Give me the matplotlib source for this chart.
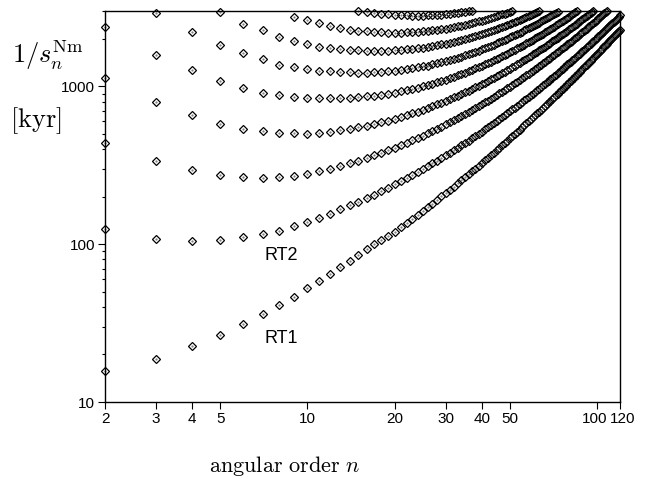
import matplotlib.pyplot as plt
import numpy as np
from matplotlib.ticker import FixedLocator, NullFormatter, NullLocator, LogLocator
from matplotlib.transforms import ScaledTranslation

plt.rcParams['font.family'] = ['Liberation Sans', 'DejaVu Sans']
plt.rcParams['mathtext.fontset'] = 'cm'

# relaxation times 1/s_n [kyr], one list per mode branch, consecutive angular orders
rt1_start = 2
rt1 = [15.8, 18.8, 22.5, 26.5, 31.0, 35.9, 41.1, 46.4, 52.4, 58.5, 64.8, 71.3, 78.2, 85.3, 92.6, 99.8, 106.8, 112.6,
       119.7, 127.7, 135.9, 144.4, 153.2, 162.1, 171.4, 180.8, 190.5, 200.4, 210.6,
       221.1, 231.7, 242.6, 253.8, 265.2, 276.9, 288.8, 301.0, 313.4, 326.2,
       339.1, 352.2, 365.7, 379.6, 393.5, 407.9, 422.2, 437.0, 452.1, 467.4,
       483.1, 498.9, 515.2, 531.6, 548.3, 565.3, 582.5, 599.8, 617.8, 636.0,
       654, 673, 692, 711, 731, 750, 771, 791, 811, 832,
       854, 875, 897, 919, 942, 965, 988, 1011, 1035, 1059,
       1083, 1108, 1133, 1158, 1184, 1209, 1235, 1262, 1289, 1316,
       1344, 1372, 1400, 1428, 1457, 1486, 1516, 1545, 1575, 1606,
       1636, 1668, 1699, 1731, 1763, 1796, 1829, 1862, 1895, 1929,
       1963, 1997, 2033, 2068, 2104, 2140, 2176, 2213, 2249, 2287]

rt2_start = 2
rt2 = [124, 108.5, 105, 106.5, 111, 116, 122, 130, 138, 147, 156, 166, 176, 186, 196, 206, 217, 228, 240,
       252.5, 264.1, 275.9, 288.0, 300.3, 312.9, 325.7, 338.8, 352.2, 365.7,
       379.7, 393.8, 408.2, 422.9, 437.8, 452.9, 468.5, 484.2, 500.3, 516.6,
       533.0, 549.7, 567.0, 584.4, 601.8, 619.9, 637.9, 656.4, 675.2, 694.1,
       713.6, 733.1, 753.1, 773.1, 793.6, 814.2, 835.3, 856.5, 878.4, 900.3,
       922, 945, 968, 991, 1014, 1038, 1062, 1086, 1111, 1136,
       1161, 1186, 1212, 1238, 1265, 1292, 1320, 1347, 1375, 1403,
       1432, 1460, 1489, 1519, 1548, 1579, 1609, 1640, 1671, 1702,
       1734, 1766, 1799, 1832, 1865, 1898, 1932, 1966, 2001, 2035,
       2070, 2106, 2142, 2179, 2216, 2253, 2291, 2328, 2366, 2405,
       2443, 2483, 2523, 2563, 2603, 2644, 2685, 2726, 2767, 2811]

b3_start = 2
b3 = [440, 337, 297, 276, 267, 264, 266, 272,
      280, 290, 301, 313, 325, 338, 351, 365, 379, 393, 408,
      423, 438, 454, 470, 486, 503, 520, 537, 555, 573,
      591, 610, 629, 648, 667, 687, 707, 727, 748, 769,
      791, 812, 834, 857, 879, 902, 925, 949, 973, 997,
      1022, 1046, 1072, 1097, 1123, 1149, 1176, 1202, 1230, 1258,
      1285, 1313, 1342, 1371, 1400, 1429, 1459, 1489, 1520, 1551,
      1583, 1614, 1646, 1678, 1711, 1744, 1777, 1811, 1846, 1880,
      1915, 1950, 1986, 2022, 2058, 2095, 2132, 2170, 2207, 2245,
      2283, 2323, 2362, 2401, 2442, 2483, 2523, 2564, 2606, 2649,
      2691, 2734, 2776, 2820, 2864, 2909, 2953, 2999]

b4_start = 2
b4 = [1128, 795, 655, 581, 540, 518, 508, 503,
      502, 508, 517, 526, 537, 550, 563, 577, 591, 607, 622,
      639, 656, 673, 691, 710, 728, 748, 767, 788, 808,
      829, 850, 872, 894, 916, 939, 962, 985, 1009, 1033,
      1057, 1082, 1107, 1133, 1159, 1185, 1212, 1239, 1266, 1294,
      1322, 1351, 1379, 1409, 1438, 1468, 1498, 1529, 1560, 1591,
      1623, 1655, 1687, 1720, 1753, 1786, 1820, 1855, 1889, 1924,
      1960, 1995, 2032, 2068, 2106, 2142, 2181, 2219, 2257, 2296,
      2335, 2375, 2415, 2456, 2497, 2537, 2580, 2622, 2664, 2707,
      2750, 2794, 2838, 2883, 2927, 2973, 3020]

b5_start = 2
b5 = [2372, 1586, 1262, 1076, 975, 910, 876, 858, 849,
      846, 843, 844, 848, 854, 863, 873, 886, 899, 913,
      929, 946, 963, 981, 1000, 1020, 1040, 1061, 1082, 1104,
      1127, 1150, 1173, 1197, 1222, 1247, 1272, 1298, 1325, 1352,
      1379, 1406, 1434, 1463, 1492, 1521, 1550, 1581, 1612, 1643,
      1674, 1706, 1738, 1771, 1804, 1838, 1872, 1906, 1941, 1976,
      2011, 2047, 2084, 2121, 2158, 2196, 2234, 2272, 2311, 2351,
      2391, 2431, 2471, 2513, 2554, 2596, 2639, 2682, 2725, 2768,
      2812, 2857, 2902, 2948, 2993]

b6_start = 3
b6 = [2925, 2208, 1835, 1620, 1480, 1370, 1320, 1285, 1258, 1242,
      1233, 1225, 1222, 1223, 1227, 1234, 1243, 1254,
      1268, 1282, 1299, 1316, 1335, 1354, 1375, 1397, 1419, 1442,
      1466, 1491, 1516, 1543, 1569, 1597, 1625, 1653, 1683, 1712,
      1743, 1773, 1805, 1836, 1868, 1901, 1934, 1968, 2003, 2038,
      2073, 2109, 2146, 2183, 2219, 2258, 2297, 2335, 2375, 2415,
      2454, 2495, 2536, 2578, 2620, 2662, 2706, 2749, 2793, 2838,
      2884, 2929, 2975]

b7_start = 5
b7 = [2950, 2494, 2260, 2060, 1940, 1850, 1785, 1740, 1712, 1697,
      1688, 1680, 1676, 1678, 1682, 1690,
      1700, 1712, 1726, 1742, 1759, 1778, 1798, 1820, 1842, 1866,
      1890, 1916, 1942, 1969, 1997, 2026, 2055, 2084, 2115, 2147,
      2178, 2211, 2244, 2277, 2312, 2346, 2381, 2417, 2453, 2490,
      2527, 2564, 2603, 2641, 2681, 2720, 2761, 2800, 2842, 2884,
      2926, 2969, 3012]

b8_start = 9
b8 = [2748, 2617, 2500, 2410, 2342,
      2289, 2253, 2226, 2207, 2196, 2189, 2187,
      2189, 2194, 2203, 2214, 2228, 2243, 2260, 2280, 2300, 2323,
      2346, 2371, 2397, 2424, 2452, 2481, 2511, 2542, 2574, 2606,
      2639, 2673, 2708, 2744, 2779, 2817, 2853, 2892, 2931, 2970, 3010]

b9_start = 15
b9 = [2990, 2950, 2915, 2885, 2860, 2840, 2825, 2815, 2808, 2805, 2806, 2811,
      2820, 2832, 2847, 2865, 2885, 2907, 2930, 2953, 2975, 2995, 3015]

xticks = [2, 3, 4, 5, 10, 20, 30, 40, 50, 100, 120]
yticks = [10, 100, 1000]

fig = plt.figure(figsize=(6.53, 4.8), dpi=100)
ax = fig.add_axes([0.1608, 0.1625, 0.7887, 0.8146])

branches = [(rt1_start, rt1), (rt2_start, rt2), (b3_start, b3), (b4_start, b4), (b5_start, b5),
            (b6_start, b6), (b7_start, b7), (b8_start, b8), (b9_start, b9)]
for start, vals in branches:
    n = np.arange(start, start + len(vals))
    ax.plot(n, vals, ls='none', marker='D', ms=4.4, mfc='none', mec='k', mew=0.9, clip_on=False)
    ax.plot(n, vals, ls='none', marker='.', ms=1.0, color='0.4', clip_on=False)

ax.set_xscale('log')
ax.set_yscale('log')
ax.set_xlim(2, 120)
ax.set_ylim(10, 3000)

ax.xaxis.set_major_locator(FixedLocator(xticks))
ax.set_xticklabels([str(t) for t in xticks])
ax.xaxis.set_minor_locator(NullLocator())
ax.yaxis.set_major_locator(FixedLocator(yticks))
ax.set_yticklabels([str(t) for t in yticks])
ax.yaxis.set_minor_locator(LogLocator(base=10, subs=np.arange(2, 10)))
ax.yaxis.set_minor_formatter(NullFormatter())

ax.tick_params(which='major', direction='out', length=5, width=0.8, labelsize=11, pad=2)
ax.tick_params(which='minor', direction='out', length=2.2, width=0.8)
for s in ax.spines.values():
    s.set_linewidth(1.0)

# nudge the crowded 100 / 120 labels apart a little
xt = ax.xaxis.get_major_ticks()
xt[9].label1.set_transform(xt[9].label1.get_transform() + ScaledTranslation(-2 / 72, 0, fig.dpi_scale_trans))
xt[10].label1.set_transform(xt[10].label1.get_transform() + ScaledTranslation(2 / 72, 0, fig.dpi_scale_trans))

ax.text(8.1, 85, 'RT2', ha='center', va='center', fontsize=13)
ax.text(8.1, 25.1, 'RT1', ha='center', va='center', fontsize=13)

fig.text(48 / 653, 1 - 55 / 480, r'$1/s_n^{\mathrm{Nm}}$', ha='center', va='center', fontsize=19)
fig.text(36 / 653, 1 - 121 / 480, r'$[\mathrm{kyr}]$', ha='center', va='center', fontsize=19)
fig.text(285 / 653, 1 - 466 / 480, r'$\mathrm{angular\ order}\ n$', ha='center', va='center', fontsize=16)

fig.savefig('out.png', dpi=100)
